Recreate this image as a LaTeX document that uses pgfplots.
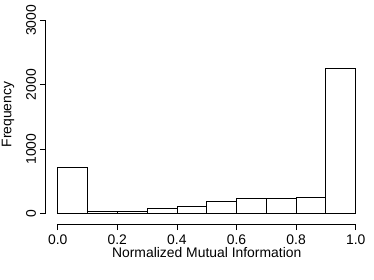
\documentclass[border=0pt]{standalone}
\usepackage{fontspec}
\setmainfont{Liberation Sans}
\usepackage{pgfplots}
\pgfplotsset{compat=1.18}
\begin{document}
\begin{tikzpicture}
\begin{axis}[
  at={(0,0)}, anchor=south west,
  scale only axis,
  width=321.8pt, height=211.3pt,
  xmin=-0.04, xmax=1.04, ymin=-166, ymax=3120,
  axis lines*=left,
  axis line style={draw=none},
  tick align=outside,
  major tick length=6pt,
  tick style={black, line width=0.8pt},
  xtick={0,0.2,0.4,0.6,0.8,1.0},
  ytick={0,1000,2000,3000},
  minor tick num=0,
  /pgf/number format/assume math mode=true,
  /pgf/number format/1000 sep={},
  xticklabel style={/pgf/number format/fixed, /pgf/number format/fixed zerofill, /pgf/number format/precision=1, anchor=base, yshift=-14.5pt, inner sep=0pt},
  yticklabel style={xshift=-3.8pt, rotate=90, anchor=base, inner sep=0pt},
  every tick label/.append style={font=\fontsize{13.9}{16}\selectfont},
  xlabel={Normalized Mutual Information},
  ylabel={Frequency},
  xlabel style={at={([yshift=-33.8pt]axis description cs:0.5,0)}, anchor=base, inner sep=0pt, font=\fontsize{13.9}{16}\selectfont},
  ylabel style={at={([xshift=-34.5pt]axis description cs:0,0.518)}, rotate=0, anchor=base, inner sep=0pt, font=\fontsize{13.9}{16}\selectfont},
  clip=false,
]
\addplot[ybar interval, fill=white, draw=black, line width=0.8pt] coordinates {
  (0.0,716) (0.1,31) (0.2,28) (0.3,78) (0.4,114) (0.5,187) (0.6,233) (0.7,227) (0.8,249) (0.9,2256) (1.0,2256)
};
\draw[black, line width=0.8pt] (axis cs:0,-166) -- (axis cs:1,-166);
\draw[black, line width=0.8pt] (axis cs:-0.04,0) -- (axis cs:-0.04,3000);
\end{axis}
\pgfresetboundingbox
\useasboundingbox (-45.8pt,-55pt) rectangle (328.2pt,224pt);
\end{tikzpicture}
\end{document}
